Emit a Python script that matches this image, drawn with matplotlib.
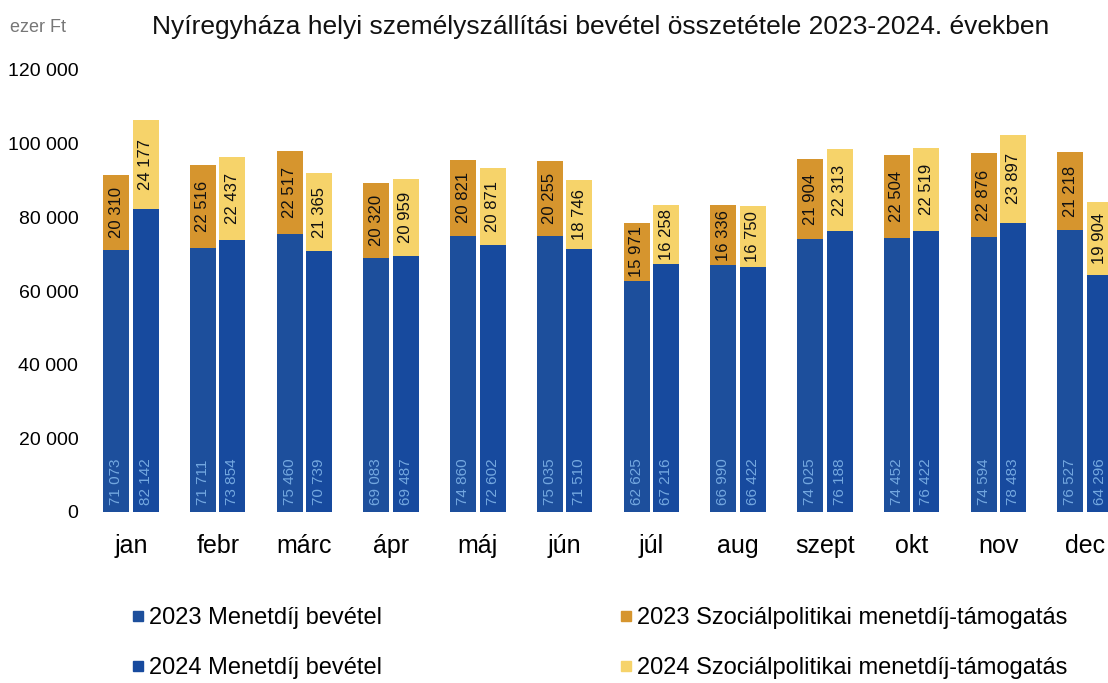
import numpy as np
import matplotlib
matplotlib.use('Agg')
import matplotlib.pyplot as plt
from matplotlib.lines import Line2D

plt.rcParams['font.family'] = ['Liberation Sans', 'DejaVu Sans']

months = ['jan', 'febr', 'márc', 'ápr', 'máj', 'jún',
          'júl', 'aug', 'szept', 'okt', 'nov', 'dec']
fare_2023 = [71073, 71711, 75460, 69083, 74860, 75035,
             62625, 66990, 74025, 74452, 74594, 76527]
fare_2024 = [82142, 73854, 70739, 69487, 72602, 71510,
             67216, 66422, 76188, 76422, 78483, 64296]
support_2023 = [20310, 22516, 22517, 20320, 20821, 20255,
                15971, 16336, 21904, 22504, 22876, 21218]
support_2024 = [24177, 22437, 21365, 20959, 20871, 18746,
                16258, 16750, 22313, 22519, 23897, 19904]
yticks = [0, 20000, 40000, 60000, 80000, 100000, 120000]

C_BLUE_23 = '#1d4f9c'
C_BLUE_24 = '#174a9e'
C_ORANGE = '#d6952e'
C_YELLOW = '#f6d36a'


def fmt(v):
    return f'{v:,}'.replace(',', ' ')


fig = plt.figure(figsize=(11.08, 6.83), dpi=100)
ax = fig.add_axes([95 / 1108, 1 - 512 / 683, 1 - 95 / 1108, (512 - 70) / 683])

x = np.arange(len(months))
w = 0.30
off = 0.17

ax.bar(x - off, fare_2023, w, color=C_BLUE_23)
ax.bar(x + off, fare_2024, w, color=C_BLUE_24)
ax.bar(x - off, support_2023, w, bottom=fare_2023, color=C_ORANGE)
ax.bar(x + off, support_2024, w, bottom=fare_2024, color=C_YELLOW)

# value labels: fare at the base of the bar, support centred in its segment
for i in range(len(months)):
    for xx, base, top in [(x[i] - off, fare_2023[i], support_2023[i]),
                          (x[i] + off, fare_2024[i], support_2024[i])]:
        ax.text(xx, 2000, fmt(base), rotation=90, ha='center', va='bottom',
                color='#74a8e0', fontsize=11)
        ax.text(xx, base + top / 2, fmt(top), rotation=90, ha='center',
                va='center', color='#111111', fontsize=12)

ax.set_xlim(-0.415, 11.265)
ax.set_ylim(0, 120000)
ax.set_xticks(x)
ax.set_xticklabels(months, fontsize=18)
ax.set_yticks(yticks)
ax.set_yticklabels([fmt(v) for v in yticks], fontsize=14)
ax.tick_params(axis='both', length=0)
ax.tick_params(axis='y', pad=12)
ax.tick_params(axis='x', pad=16)
for s in ax.spines.values():
    s.set_visible(False)

fig.text(10 / 1108, 1 - 27 / 683, 'ezer Ft', color='#777777', fontsize=13,
         va='center', ha='left')
fig.text(601 / 1108, 1 - 27 / 683,
         'Nyíregyháza helyi személyszállítási bevétel összetétele 2023-2024. években',
         fontsize=19, va='center', ha='center', color='#111111')

handles = [Line2D([], [], marker='s', ls='', color=c, markersize=7)
           for c in (C_BLUE_23, C_ORANGE, C_BLUE_24, C_YELLOW)]
labels = ['2023 Menetdíj bevétel', '2023 Szociálpolitikai menetdíj-támogatás',
          '2024 Menetdíj bevétel', '2024 Szociálpolitikai menetdíj-támogatás']
y_rows = [1 - 618 / 683, 1 - 668 / 683]
x_cols = [132 / 1108, 620 / 1108]
for k, (h, lab) in enumerate(zip(handles, labels)):
    r, c = divmod(k, 2)
    fig.legend([h], [lab], loc='center left', bbox_to_anchor=(x_cols[c], y_rows[r]),
               frameon=False, fontsize=17, handlelength=0.5, handletextpad=0.2,
               borderpad=0, borderaxespad=0)

fig.savefig('out.png', dpi=100)
